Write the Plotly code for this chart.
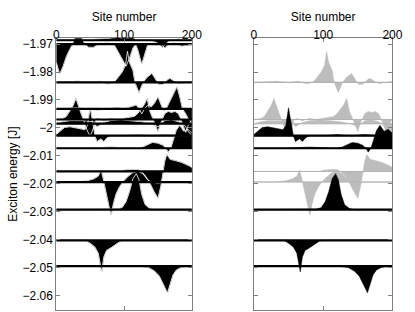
import plotly.graph_objects as go

# ---------------- data ----------------
site_ticks = [0, 100, 200]
energy_ticks = [-1.97, -1.98, -1.99, -2.00, -2.01, -2.02, -2.03, -2.04, -2.05, -2.06]
energy_tick_text = ["\u22121.97", "\u22121.98", "\u22121.99", "\u22122", "\u22122.01",
                    "\u22122.02", "\u22122.03", "\u22122.04", "\u22122.05", "\u22122.06"]

# exciton energies (baselines) in J
levels = [-1.9686, -1.9700, -1.9837, -1.9932, -1.9970, -1.9985, -2.0028,
          -2.0073, -2.0156, -2.0194, -2.0293, -2.0403, -2.0495]
# colour of each state in the right panel (None = not shown)
right_colour = [None, None, "gray", None, "gray", "gray", "black",
                "black", "gray", "gray", "black", "black", "black"]

# wavefunction amplitudes, in units of 1e-3 J, at the listed sites
state1_sites = [0, 40, 60, 80, 90, 100, 110, 118, 140, 150, 157, 162, 168, 180, 200]
state1_amp = [0, 0, 0.4, 0.7, 2.1, 2.9, 1.8, 0, 0, -1.1, -2.5, -1.1, 0, 0.4, 0]

state2_sites = [0, 5, 10, 15, 20, 24, 28, 33, 38, 42, 48, 55, 62, 75, 85, 90, 97, 103, 108,
                113, 117, 120, 126, 131, 135, 145, 155, 160, 165, 175, 185, 200]
state2_amp = [-6.4, -10.7, -7.9, -4.3, -1.8, 0, 2.9, 3.6, 2.1, 0, -1.1, -1.1, 0, 0.4, 0, -2.1,
              -5.0, -7.9, -5.0, -1.4, 0, -1.8, -7.1, -2.9, 0, 0.4, 0, -1.4, 0, 0.4, -0.7, 0]

state3_sites = [0, 32, 50, 64, 76, 85, 90, 97, 102, 105, 108, 113, 116, 122, 128, 134, 141,
                146, 151, 157, 165, 168, 174, 181, 189, 200]
state3_amp = [0, 0.4, 0, 0.4, -0.5, 0, 1.4, 3.6, 6.1, 11.1, 7.1, 4.3, 0, -3.6, 0, 1.8, 3.2,
              1.1, -0.7, -0.7, 1.1, 1.4, 0.4, -0.4, 0, 0.4]

state4_sites = [0, 30, 60, 90, 100, 110, 118, 122, 126, 130, 135, 140, 145, 150, 155, 158,
                162, 168, 174, 178, 182, 186, 190, 195, 200]
state4_amp = [0, 0.4, -0.4, 0.4, 0, 0.7, 1.4, 0, -1.8, 0, 1.4, 0.7, 2.1, 4.3, 1.1, -0.7,
              0, 2.9, 5.7, 7.9, 4.3, 0, -1.4, -3.6, -5.0]

state5_sites = [0, 10, 15, 20, 25, 29, 33, 37, 40, 45, 50, 55, 58, 62, 70, 80, 90, 100, 110,
                115, 120, 125, 130, 134, 138, 143, 147, 150, 153, 156, 160, 165, 170, 175,
                180, 184, 188, 191, 195, 200]
state5_amp = [0, 0.4, 1.1, 2.9, 5.0, 7.5, 4.3, 1.8, 0, -3.6, -6.1, -2.9, 0, 0.4, -0.4, 0.4,
              0, 0.4, 0.7, 1.1, 2.1, 3.6, 5.4, 7.5, 2.9, 0, -2.5, -4.3, -1.8, 0, 2.1, 2.9,
              2.5, 2.9, 2.1, 0, -2.9, -4.6, -1.8, 0]

state6_sites = [0, 10, 20, 30, 40, 55, 60, 70, 80, 95, 110, 125, 140, 150, 160, 170, 180,
                190, 195, 200]
state6_amp = [0, 0.7, 1.1, 1.1, 1.1, 0.7, -1.1, 0.4, 1.1, 1.4, 1.1, 0.7, 0, -1.1, 1.1, 1.4,
              0.7, -0.7, -2.9, -4.3]

state7_sites = [0, 5, 12, 20, 28, 35, 42, 46, 50, 54, 57, 60, 66, 70, 75, 80, 100, 120, 140,
                160, 180, 200]
state7_amp = [0.4, 1.4, 2.9, 3.2, 2.9, 2.5, 2.1, 3.6, 10.0, 4.3, 0, -2.1, -1.1, -2.1, -0.7,
              0, 0, 0.4, 0, 0.4, 0, 0]

state8_sites = [0, 40, 80, 120, 127, 135, 142, 150, 157, 162, 165, 169, 173, 177, 182, 188,
                194, 200]
state8_amp = [0, 0, 0.4, 0, 0.4, 1.4, 2.1, 1.8, 1.1, 0, -1.4, 0, 2.9, 6.4, 8.2, 6.1, 6.8, 5.4]

state9_sites = [0, 50, 95, 100, 110, 120, 125, 130, 137, 144, 150, 154, 157, 160, 163, 168,
                175, 185, 195, 200]
state9_amp = [0, 0, 0, 0.4, 0.7, 0.7, 0, -1.1, -3.6, -7.1, -9.6, -5.4, 0, 3.6, 6.1, 4.3,
              3.9, 3.2, 2.1, 1.4]

state10_sites = [0, 30, 45, 55, 62, 66, 69, 73, 78, 81, 84, 88, 93, 98, 105, 112, 120, 128,
                 135, 140, 150, 160, 200]
state10_amp = [0, 0, 0.4, 1.1, 2.1, 4.3, 1.4, -3.6, -8.9, -11.8, -7.9, -4.3, -1.8, 0, 1.8,
               3.2, 3.9, 2.9, 0.7, 0, -0.4, 0, 0]

state11_sites = [0, 60, 90, 97, 103, 108, 113, 118, 122, 126, 131, 138, 145, 200]
state11_amp = [0, 0, 0.2, 0.7, 2.9, 6.4, 11.1, 12.9, 10.7, 5.4, 1.8, 0.4, 0, 0]

state12_sites = [0, 43, 50, 57, 62, 67, 70, 74, 81, 88, 95, 100, 200]
state12_amp = [0, 0, -1.0, -2.4, -4.6, -11.3, -6.0, -3.6, -2.6, -1.4, -0.2, 0, 0]

state13_sites = [0, 120, 136, 145, 152, 158, 164, 168, 172, 177, 184, 195, 200]
state13_amp = [0, 0, -0.5, -1.8, -3.6, -6.4, -9.6, -6.4, -3.2, -1.4, -0.5, 0, 0]

state_sites = [state1_sites, state2_sites, state3_sites, state4_sites, state5_sites,
               state6_sites, state7_sites, state8_sites, state9_sites, state10_sites,
               state11_sites, state12_sites, state13_sites]
state_amps = [state1_amp, state2_amp, state3_amp, state4_amp, state5_amp, state6_amp,
              state7_amp, state8_amp, state9_amp, state10_amp, state11_amp, state12_amp,
              state13_amp]

# ---------------- figure ----------------
GRAY_FILL = "#bdbdbd"
GRAY_LINE = "#b3b3b3"
FRAME = "#7f7f7f"
fig = go.Figure()


def curve(k):
    E = levels[k]
    return list(state_sites[k]), [E + a * 1e-3 for a in state_amps[k]]


def add_fill(k, colour, xa, ya):
    E = levels[k]
    xs, ys = curve(k)
    fill = "black" if colour == "black" else GRAY_FILL
    fig.add_trace(go.Scatter(x=xs + [200, 0], y=ys + [E, E], mode="lines", fill="toself",
                             fillcolor=fill, line=dict(width=0.5, color=fill),
                             xaxis=xa, yaxis=ya, hoverinfo="skip", showlegend=False))


def add_baseline(k, colour, xa, ya):
    E = levels[k]
    fig.add_trace(go.Scatter(x=[0, 200], y=[E, E], mode="lines",
                             line=dict(width=2.2 if colour == "black" else 1.1,
                                       color="black" if colour == "black" else GRAY_LINE),
                             xaxis=xa, yaxis=ya, hoverinfo="skip", showlegend=False))


# left panel: all states black; curve edges show as thin white lines where they overlap
n = len(levels)
for k in range(n):
    add_fill(k, "black", "x", "y")
for k in range(n):
    xs, ys = curve(k)
    fig.add_trace(go.Scatter(x=xs, y=ys, mode="lines", line=dict(width=0.8, color="white"),
                             xaxis="x", yaxis="y", hoverinfo="skip", showlegend=False))
for k in range(n):
    add_baseline(k, "black", "x", "y")

# right panel: gray states first, then black ones on top
for wanted in ("gray", "black"):
    for k in range(n):
        if right_colour[k] == wanted:
            add_fill(k, wanted, "x2", "y2")
            add_baseline(k, wanted, "x2", "y2")

font = dict(family="Liberation Sans, Arial, sans-serif", size=12, color="black")
yr = [-2.06525, -1.96786]
common_x = dict(range=[0, 200], tickvals=site_ticks, side="top", ticks="inside", ticklen=4,
                tickcolor=FRAME, showline=True, linecolor=FRAME, linewidth=1,
                mirror="allticks", showgrid=False, zeroline=False, ticklabelstandoff=-7,
                title=dict(text="Site number", font=font, standoff=4), tickfont=font)
common_y = dict(range=yr, tickvals=energy_ticks, ticks="inside", ticklen=4, tickcolor=FRAME,
                showline=True, linecolor=FRAME, linewidth=1, mirror="allticks",
                showgrid=False, zeroline=False, tickfont=font)

fig.update_layout(
    width=415, height=312, margin=dict(l=0, r=0, t=0, b=0),
    paper_bgcolor="white", plot_bgcolor="white", font=font,
    xaxis=dict(domain=[55 / 415, 195 / 415], anchor="y", **common_x),
    xaxis2=dict(domain=[259 / 415, 402 / 415], anchor="y2", **common_x),
    yaxis=dict(domain=[1 - 310 / 312, 1 - 37.3 / 312], anchor="x", ticktext=energy_tick_text,
               title=dict(text="Exciton energy [J]", font=font, standoff=2), **common_y),
    yaxis2=dict(domain=[1 - 310 / 312, 1 - 37.3 / 312], anchor="x2", showticklabels=False,
                **common_y),
)

fig.write_html("out.html", config={"displayModeBar": False},
               post_script="document.body.style.margin='0';")
